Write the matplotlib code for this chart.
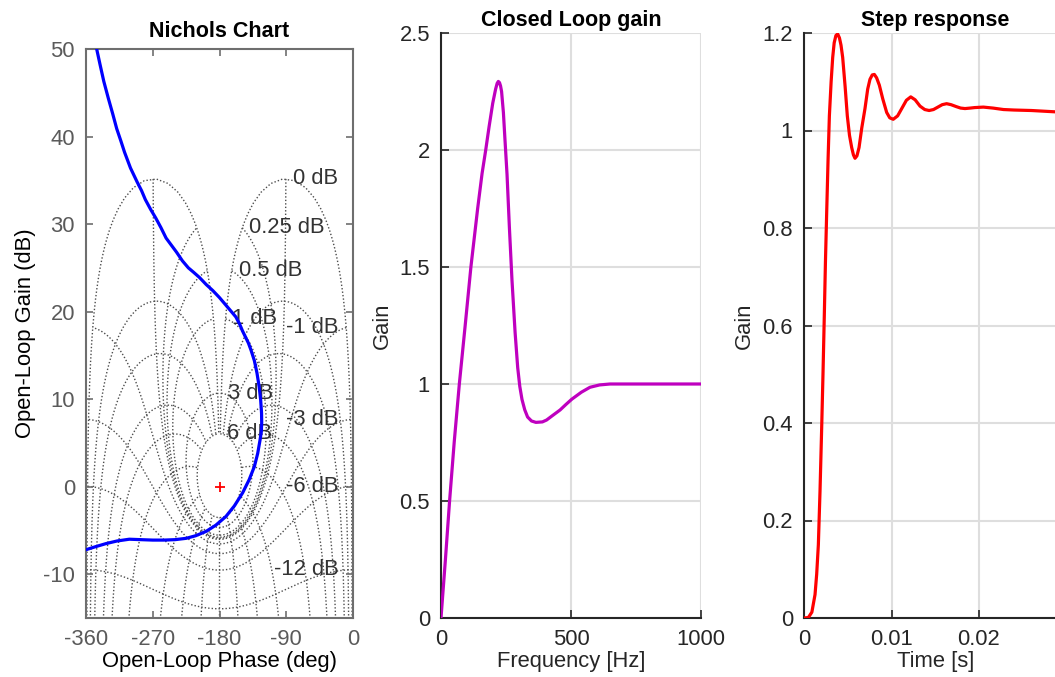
import numpy as np
import matplotlib.pyplot as plt
from matplotlib.ticker import FormatStrFormatter

plt.rcParams['font.family'] = ['Liberation Sans', 'DejaVu Sans']
plt.rcParams['axes.unicode_minus'] = False
plt.rcParams['font.size'] = 15.8

# open loop response on the Nichols chart (phase deg, gain dB)
ol_phase = [-347.5, -345.6, -341, -336, -330, -324, -318.6, -313, -308, -300,
            -291, -285, -280, -273, -266, -259, -252, -245, -238, -230,
            -222, -215, -207, -198, -189, -180, -171, -164, -158, -153,
            -149, -145, -141, -137.5, -133, -129.5, -126.5, -124.5, -123.3, -123.1,
            -123.6, -125.4, -128.5, -133, -140, -148.8, -160, -171.3, -185, -198,
            -212, -225, -240, -255, -270, -286, -301.6, -318, -333, -347, -360]
ol_gain = [52, 50, 48.2, 46.3, 44.4, 42.6, 40.9, 39.5, 38.2, 36.4,
           34.8, 33.8, 32.8, 31.7, 30.7, 29.6, 28.4, 27.6, 26.8, 25.8,
           25.0, 24.5, 23.9, 23.1, 22.4, 21.6, 20.7, 20.0, 19.4, 18.6,
           17.8, 17.1, 16.4, 15.6, 14.4, 13.0, 11.4, 9.9, 8.4, 7.3,
           6.3, 5.3, 3.8, 2.3, 0.8, -0.7, -2.2, -3.4, -4.4, -5.1,
           -5.6, -5.9, -6.05, -6.1, -6.1, -6.05, -6.0, -6.2, -6.5, -6.85, -7.2]

# closed loop gain vs frequency
cl_freq = [0, 17, 33, 51, 70.5, 93, 115, 141, 158, 172, 185, 199, 210, 216, 220.5,
           225, 229, 233, 240, 246, 254, 263, 273, 285, 295, 303, 311.5, 322, 333, 348, 365,
           390, 406, 430, 458, 480, 503, 540, 573, 610, 650, 700, 800, 900, 1000]
cl_gain = [0, 0.25, 0.5, 0.754, 1.0, 1.25, 1.5, 1.75, 1.9, 2.0, 2.1, 2.2, 2.26, 2.285, 2.293,
           2.288, 2.274, 2.25, 2.16, 2.045, 1.895, 1.67, 1.444, 1.22, 1.07, 0.99, 0.934, 0.89, 0.859, 0.842, 0.836,
           0.838, 0.846, 0.866, 0.889, 0.912, 0.935, 0.965, 0.986, 0.996, 1.0, 1.0, 1.0, 1.0, 1.0]

# step response
step_t = [0, 0.0005, 0.0009, 0.00126, 0.00145, 0.00164, 0.00183, 0.00202, 0.00217, 0.00232,
          0.00245, 0.00259, 0.00275, 0.0029, 0.0031, 0.00328, 0.00345, 0.00365, 0.00385, 0.00405,
          0.00423, 0.00442, 0.0047, 0.00495, 0.0052, 0.00545, 0.00565, 0.00583, 0.00605, 0.00629,
          0.0066, 0.00697, 0.00728, 0.00754, 0.0078, 0.00804, 0.0083, 0.00861, 0.009, 0.00945,
          0.0098, 0.0102, 0.0107, 0.01117, 0.0117, 0.0122, 0.0127, 0.01326, 0.0138, 0.0143,
          0.0148, 0.0153, 0.0158, 0.0163, 0.0168, 0.0174, 0.0179, 0.0184, 0.019, 0.0195,
          0.0205, 0.0216, 0.0228, 0.024, 0.026, 0.028, 0.029, 0.03]
step_y = [0, 0.001, 0.012, 0.048, 0.09, 0.15, 0.26, 0.39, 0.5, 0.62,
          0.73, 0.83, 0.94, 1.03, 1.1, 1.15, 1.18, 1.195, 1.198, 1.19,
          1.175, 1.15, 1.09, 1.03, 0.99, 0.965, 0.95, 0.943, 0.948, 0.965,
          1.005, 1.045, 1.085, 1.105, 1.114, 1.115, 1.108, 1.093, 1.065, 1.037,
          1.026, 1.023, 1.03, 1.045, 1.062, 1.069, 1.063, 1.05, 1.043, 1.041,
          1.043, 1.048, 1.053, 1.055, 1.053, 1.049, 1.046, 1.045, 1.046, 1.047,
          1.048, 1.046, 1.043, 1.042, 1.041, 1.039, 1.038, 1.037]

# Nichols grid: closed loop gain contours (dB) and closed loop phase contours (deg)
m_levels = [6, 3, 1, 0.5, 0.25, 0, -1, -3, -6, -12, -20, -40]
m_labels = [6, 3, 1, 0.5, 0.25, 0, -1, -3, -6, -12]
n_levels = [-1, -5, -10, -20, -30, -50, -90, -120, -150, -180,
            -210, -240, -270, -310, -330, -340, -350, -355, -359]
crit_phase, crit_gain = -180, 0


def cl_to_ol(mag, psi):
    T = mag * np.exp(1j * np.radians(psi))
    L = T / (1 - T)
    ph = np.degrees(np.unwrap(np.atleast_1d(np.angle(L))))
    if ph.max() > 0:
        ph = ph - 360
    return ph, 20 * np.log10(np.abs(L))


fig = plt.figure(figsize=(10.55, 6.77), dpi=100)
W, H = 1055., 677.

def axes_px(l, t, r, b):
    return fig.add_axes([l / W, 1 - b / H, (r - l) / W, (b - t) / H])

grid_kw = dict(color='#4d4d4d', lw=1.0, ls=(0, (1, 1.5)), zorder=1)
title_kw = dict(fontweight='bold', fontsize=15.5)

# ---- Nichols chart
ax1 = axes_px(86, 49, 353, 618)
psi = np.linspace(-1, -359, 1500)
for m in m_levels:
    ph, g = cl_to_ol(10 ** (m / 20), psi)
    ax1.plot(ph, g, **grid_kw)
mags = 10 ** (np.linspace(-60, 6, 1500) / 20)
for p in n_levels:
    ph, g = cl_to_ol(mags, np.full_like(mags, p))
    ax1.plot(ph, g, **grid_kw)

for m in m_labels:
    ph, g = cl_to_ol(10 ** (m / 20), np.array([-1.0]))
    if m >= 0:
        ax1.annotate(f'{m:g} dB', (ph[0], g[0]), xytext=(5, 0), textcoords='offset points',
                     ha='left', va='center', color='#333333', zorder=3)
    else:
        ax1.text(-19, g[0], f'{m:g} dB', ha='right', va='center', color='#333333', zorder=3)

ax1.plot(ol_phase, ol_gain, color='#0000ff', lw=2.3, zorder=4)
ax1.plot(crit_phase, crit_gain, '+', color='red', ms=7, mew=1.3, zorder=5)

ax1.set_xlim(-360, 0)
ax1.set_ylim(-15, 50)
ax1.set_xticks([-360, -270, -180, -90, 0])
ax1.set_yticks([-10, 0, 10, 20, 30, 40, 50])
for s in ax1.spines.values():
    s.set_color('#6e6e6e')
    s.set_linewidth(1.5)
ax1.tick_params(direction='in', length=5, width=1.2, colors='#6e6e6e', labelcolor='#5a5a5a',
                top=True, right=True, pad=8)
ax1.set_xlabel('Open-Loop Phase (deg)', color='black', labelpad=1)
ax1.set_ylabel('Open-Loop Gain (dB)', color='black', labelpad=5)
ax1.set_title('Nichols Chart', pad=8.5, **title_kw)

# ---- closed loop gain
ax2 = axes_px(441, 33, 701, 618)
ax2.plot(cl_freq, cl_gain, color='#bf00bf', lw=2.3, zorder=3)
ax2.set_xlim(0, 1000)
ax2.set_ylim(0, 2.5)
ax2.set_xticks([0, 500, 1000])
ax2.set_yticks([0, 0.5, 1, 1.5, 2, 2.5])
ax2.yaxis.set_major_formatter(FormatStrFormatter('%g'))
ax2.set_xlabel('Frequency [Hz]', color='#262626', labelpad=1)
ax2.set_ylabel('Gain', color='#262626', labelpad=5)
ax2.set_title('Closed Loop gain', pad=5, **title_kw)

# ---- step response
ax3 = axes_px(804, 33, 1066.5, 618)
ax3.plot(step_t, step_y, color='#ff0000', lw=2.3, zorder=3)
ax3.set_xlim(0, 0.03)
ax3.set_ylim(0, 1.2)
ax3.set_xticks([0, 0.01, 0.02])
ax3.set_yticks([0, 0.2, 0.4, 0.6, 0.8, 1, 1.2])
ax3.xaxis.set_major_formatter(FormatStrFormatter('%g'))
ax3.yaxis.set_major_formatter(FormatStrFormatter('%g'))
ax3.set_xlabel('Time [s]', color='#262626', labelpad=1)
ax3.set_ylabel('Gain', color='#262626', labelpad=5)
ax3.set_title('Step response', pad=5, **title_kw)

for ax in (ax2, ax3):
    ax.grid(True, color='#dedede', lw=1.5, zorder=0)
    ax.set_axisbelow(True)
    for side in ('top', 'right'):
        ax.spines[side].set_visible(False)
    for side in ('left', 'bottom'):
        ax.spines[side].set_color('#262626')
        ax.spines[side].set_linewidth(1.5)
    ax.tick_params(direction='in', length=6, width=1.2, colors='#262626', pad=8)

fig.savefig('out.png', dpi=100)
